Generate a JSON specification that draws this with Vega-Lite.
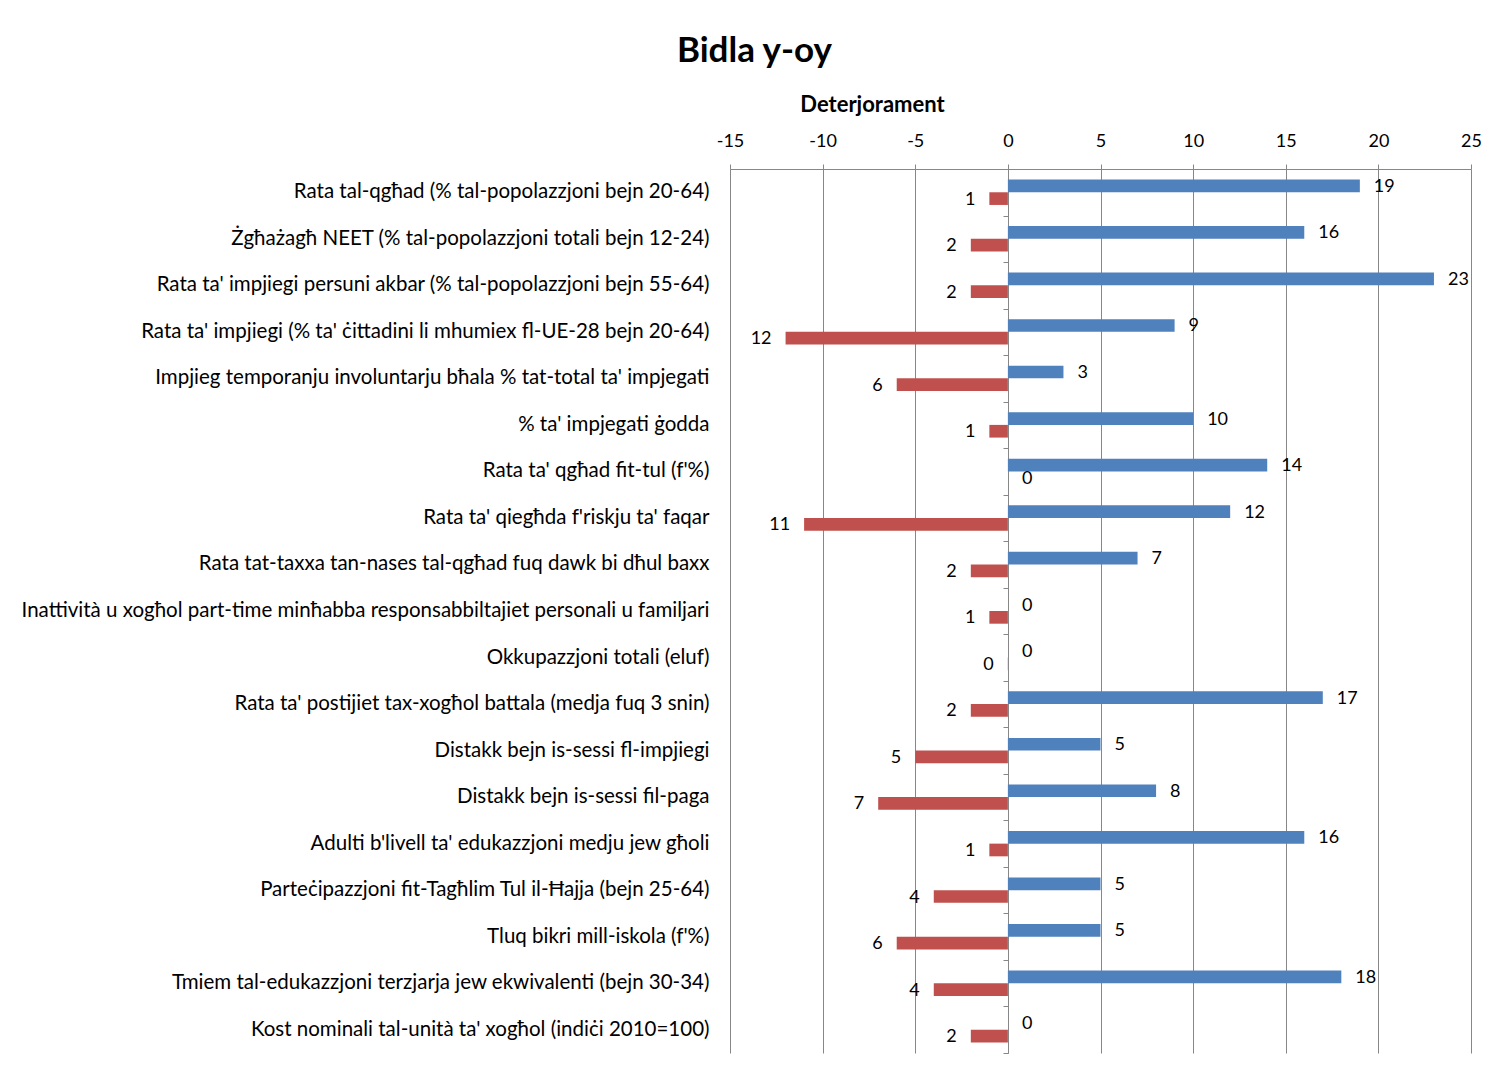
{
  "$schema": "https://vega.github.io/schema/vega-lite/v6.json",
  "width": 741,
  "height": 884,
  "autosize": {"type": "none"},
  "padding": {"left": 730, "top": 169, "right": 17, "bottom": 20},
  "background": "white",
  "title": {"text": "Bidla y-oy", "font": "Lato", "fontSize": 35, "fontWeight": "bold", "color": "black", "anchor": "middle", "dx": -346, "offset": 24},
  "config": {"view": {"stroke": null}, "font": "Lato"},
  "data": {"values": [
    {"cat": "Rata tal-qgħad  (% tal-popolazzjoni bejn 20-64)", "series": "Titjib", "value": 19, "label": "19"},
    {"cat": "Rata tal-qgħad  (% tal-popolazzjoni bejn 20-64)", "series": "Deterjorament", "value": -1, "label": "1"},
    {"cat": "Żgħażagħ NEET (% tal-popolazzjoni totali bejn 12-24)", "series": "Titjib", "value": 16, "label": "16"},
    {"cat": "Żgħażagħ NEET (% tal-popolazzjoni totali bejn 12-24)", "series": "Deterjorament", "value": -2, "label": "2"},
    {"cat": "Rata ta' impjiegi persuni akbar (% tal-popolazzjoni bejn 55-64)", "series": "Titjib", "value": 23, "label": "23"},
    {"cat": "Rata ta' impjiegi persuni akbar (% tal-popolazzjoni bejn 55-64)", "series": "Deterjorament", "value": -2, "label": "2"},
    {"cat": "Rata ta' impjiegi (% ta' ċittadini li mhumiex fl-UE-28 bejn 20-64)", "series": "Titjib", "value": 9, "label": "9"},
    {"cat": "Rata ta' impjiegi (% ta' ċittadini li mhumiex fl-UE-28 bejn 20-64)", "series": "Deterjorament", "value": -12, "label": "12"},
    {"cat": "Impjieg temporanju involuntarju bħala % tat-total ta' impjegati", "series": "Titjib", "value": 3, "label": "3"},
    {"cat": "Impjieg temporanju involuntarju bħala % tat-total ta' impjegati", "series": "Deterjorament", "value": -6, "label": "6"},
    {"cat": "% ta' impjegati ġodda", "series": "Titjib", "value": 10, "label": "10"},
    {"cat": "% ta' impjegati ġodda", "series": "Deterjorament", "value": -1, "label": "1"},
    {"cat": "Rata ta' qgħad fit-tul (f'%)", "series": "Titjib", "value": 14, "label": "14"},
    {"cat": "Rata ta' qgħad fit-tul (f'%)", "series": "Deterjorament", "value": 0, "label": "0"},
    {"cat": "Rata ta' qiegħda f'riskju ta' faqar", "series": "Titjib", "value": 12, "label": "12"},
    {"cat": "Rata ta' qiegħda f'riskju ta' faqar", "series": "Deterjorament", "value": -11, "label": "11"},
    {"cat": "Rata tat-taxxa tan-nases tal-qgħad fuq dawk bi dħul baxx", "series": "Titjib", "value": 7, "label": "7"},
    {"cat": "Rata tat-taxxa tan-nases tal-qgħad fuq dawk bi dħul baxx", "series": "Deterjorament", "value": -2, "label": "2"},
    {"cat": "Inattività u xogħol part-time minħabba responsabbiltajiet personali u familjari", "series": "Titjib", "value": 0, "label": "0"},
    {"cat": "Inattività u xogħol part-time minħabba responsabbiltajiet personali u familjari", "series": "Deterjorament", "value": -1, "label": "1"},
    {"cat": "Okkupazzjoni totali (eluf)", "series": "Titjib", "value": 0, "label": "0"},
    {"cat": "Okkupazzjoni totali (eluf)", "series": "Deterjorament", "value": -0.01, "label": "0"},
    {"cat": "Rata ta' postijiet tax-xogħol battala  (medja fuq 3 snin)", "series": "Titjib", "value": 17, "label": "17"},
    {"cat": "Rata ta' postijiet tax-xogħol battala  (medja fuq 3 snin)", "series": "Deterjorament", "value": -2, "label": "2"},
    {"cat": "Distakk bejn is-sessi fl-impjiegi", "series": "Titjib", "value": 5, "label": "5"},
    {"cat": "Distakk bejn is-sessi fl-impjiegi", "series": "Deterjorament", "value": -5, "label": "5"},
    {"cat": "Distakk bejn is-sessi fil-paga", "series": "Titjib", "value": 8, "label": "8"},
    {"cat": "Distakk bejn is-sessi fil-paga", "series": "Deterjorament", "value": -7, "label": "7"},
    {"cat": "Adulti b'livell ta' edukazzjoni medju jew għoli", "series": "Titjib", "value": 16, "label": "16"},
    {"cat": "Adulti b'livell ta' edukazzjoni medju jew għoli", "series": "Deterjorament", "value": -1, "label": "1"},
    {"cat": "Parteċipazzjoni fit-Tagħlim Tul il-Ħajja (bejn 25-64)", "series": "Titjib", "value": 5, "label": "5"},
    {"cat": "Parteċipazzjoni fit-Tagħlim Tul il-Ħajja (bejn 25-64)", "series": "Deterjorament", "value": -4, "label": "4"},
    {"cat": "Tluq bikri mill-iskola (f'%)", "series": "Titjib", "value": 5, "label": "5"},
    {"cat": "Tluq bikri mill-iskola (f'%)", "series": "Deterjorament", "value": -6, "label": "6"},
    {"cat": "Tmiem tal-edukazzjoni terzjarja jew ekwivalenti (bejn 30-34)", "series": "Titjib", "value": 18, "label": "18"},
    {"cat": "Tmiem tal-edukazzjoni terzjarja jew ekwivalenti (bejn 30-34)", "series": "Deterjorament", "value": -4, "label": "4"},
    {"cat": "Kost nominali tal-unità ta' xogħol (indiċi 2010=100)", "series": "Titjib", "value": 0, "label": "0"},
    {"cat": "Kost nominali tal-unità ta' xogħol (indiċi 2010=100)", "series": "Deterjorament", "value": -2, "label": "2"}
  ]},
  "encoding": {
    "x": {
      "field": "value", "type": "quantitative",
      "scale": {"domain": [-15, 25], "nice": false, "zero": false},
      "axis": {
        "orient": "top", "values": [-15, -10, -5, 0, 5, 10, 15, 20, 25],
        "labelExpr": "'' + datum.value", "labelFlush": false, "labelOverlap": false,
        "grid": true, "gridColor": "#878787", "gridOpacity": 1,
        "domainColor": "#878787", "tickColor": "#878787", "tickSize": 5,
        "labelFontSize": 18, "labelColor": "black", "labelPadding": 14, "labelFont": "Lato",
        "title": "Deterjorament", "titleFont": "Lato", "titleFontSize": 22, "titleFontWeight": "bold", "titleColor": "black",
        "titleX": 142, "titleY": -65, "titleAlign": "center", "titleBaseline": "middle", "titleAnchor": null
      }
    },
    "yOffset": {"field": "series", "type": "nominal", "sort": ["Titjib", "Deterjorament"], "scale": {"paddingInner": 0, "paddingOuter": 0.833}}
  },
  "layer": [
    {
      "mark": {"type": "bar"},
      "encoding": {
        "y": {"field": "cat", "type": "nominal", "sort": null,
          "scale": {"paddingInner": 0, "paddingOuter": 0},
          "axis": {"orient": "left", "domain": false, "ticks": false, "grid": false, "title": null,
            "labelFontSize": 20.5, "labelFont": "Lato", "labelColor": "black", "labelPadding": 21, "labelLimit": 0}},
        "color": {"field": "series", "type": "nominal", "scale": {"domain": ["Titjib", "Deterjorament"], "range": ["#4F81BD", "#C0504D"]}, "legend": null}
      }
    },
    {
      "transform": [{"filter": "datum.value >= 0"}],
      "mark": {"type": "text", "align": "left", "baseline": "middle", "dx": 14, "dy": 1, "fontSize": 18, "font": "Lato", "color": "black"},
      "encoding": {
        "y": {"field": "cat", "type": "nominal", "sort": null,
          "axis": {"orient": "left", "labels": false, "domain": true, "ticks": true, "tickBand": "extent", "grid": false, "title": null,
            "offset": -278, "domainColor": "#878787", "tickColor": "#878787", "tickSize": 5}},
        "text": {"field": "label", "type": "nominal"}
      }
    },
    {
      "transform": [{"filter": "datum.value < 0"}],
      "mark": {"type": "text", "align": "right", "baseline": "middle", "dx": -14, "dy": 1, "fontSize": 18, "font": "Lato", "color": "black"},
      "encoding": {
        "y": {"field": "cat", "type": "nominal", "sort": null, "axis": null},
        "text": {"field": "label", "type": "nominal"}
      }
    }
  ],
  "resolve": {"axis": {"y": "independent"}}
}
